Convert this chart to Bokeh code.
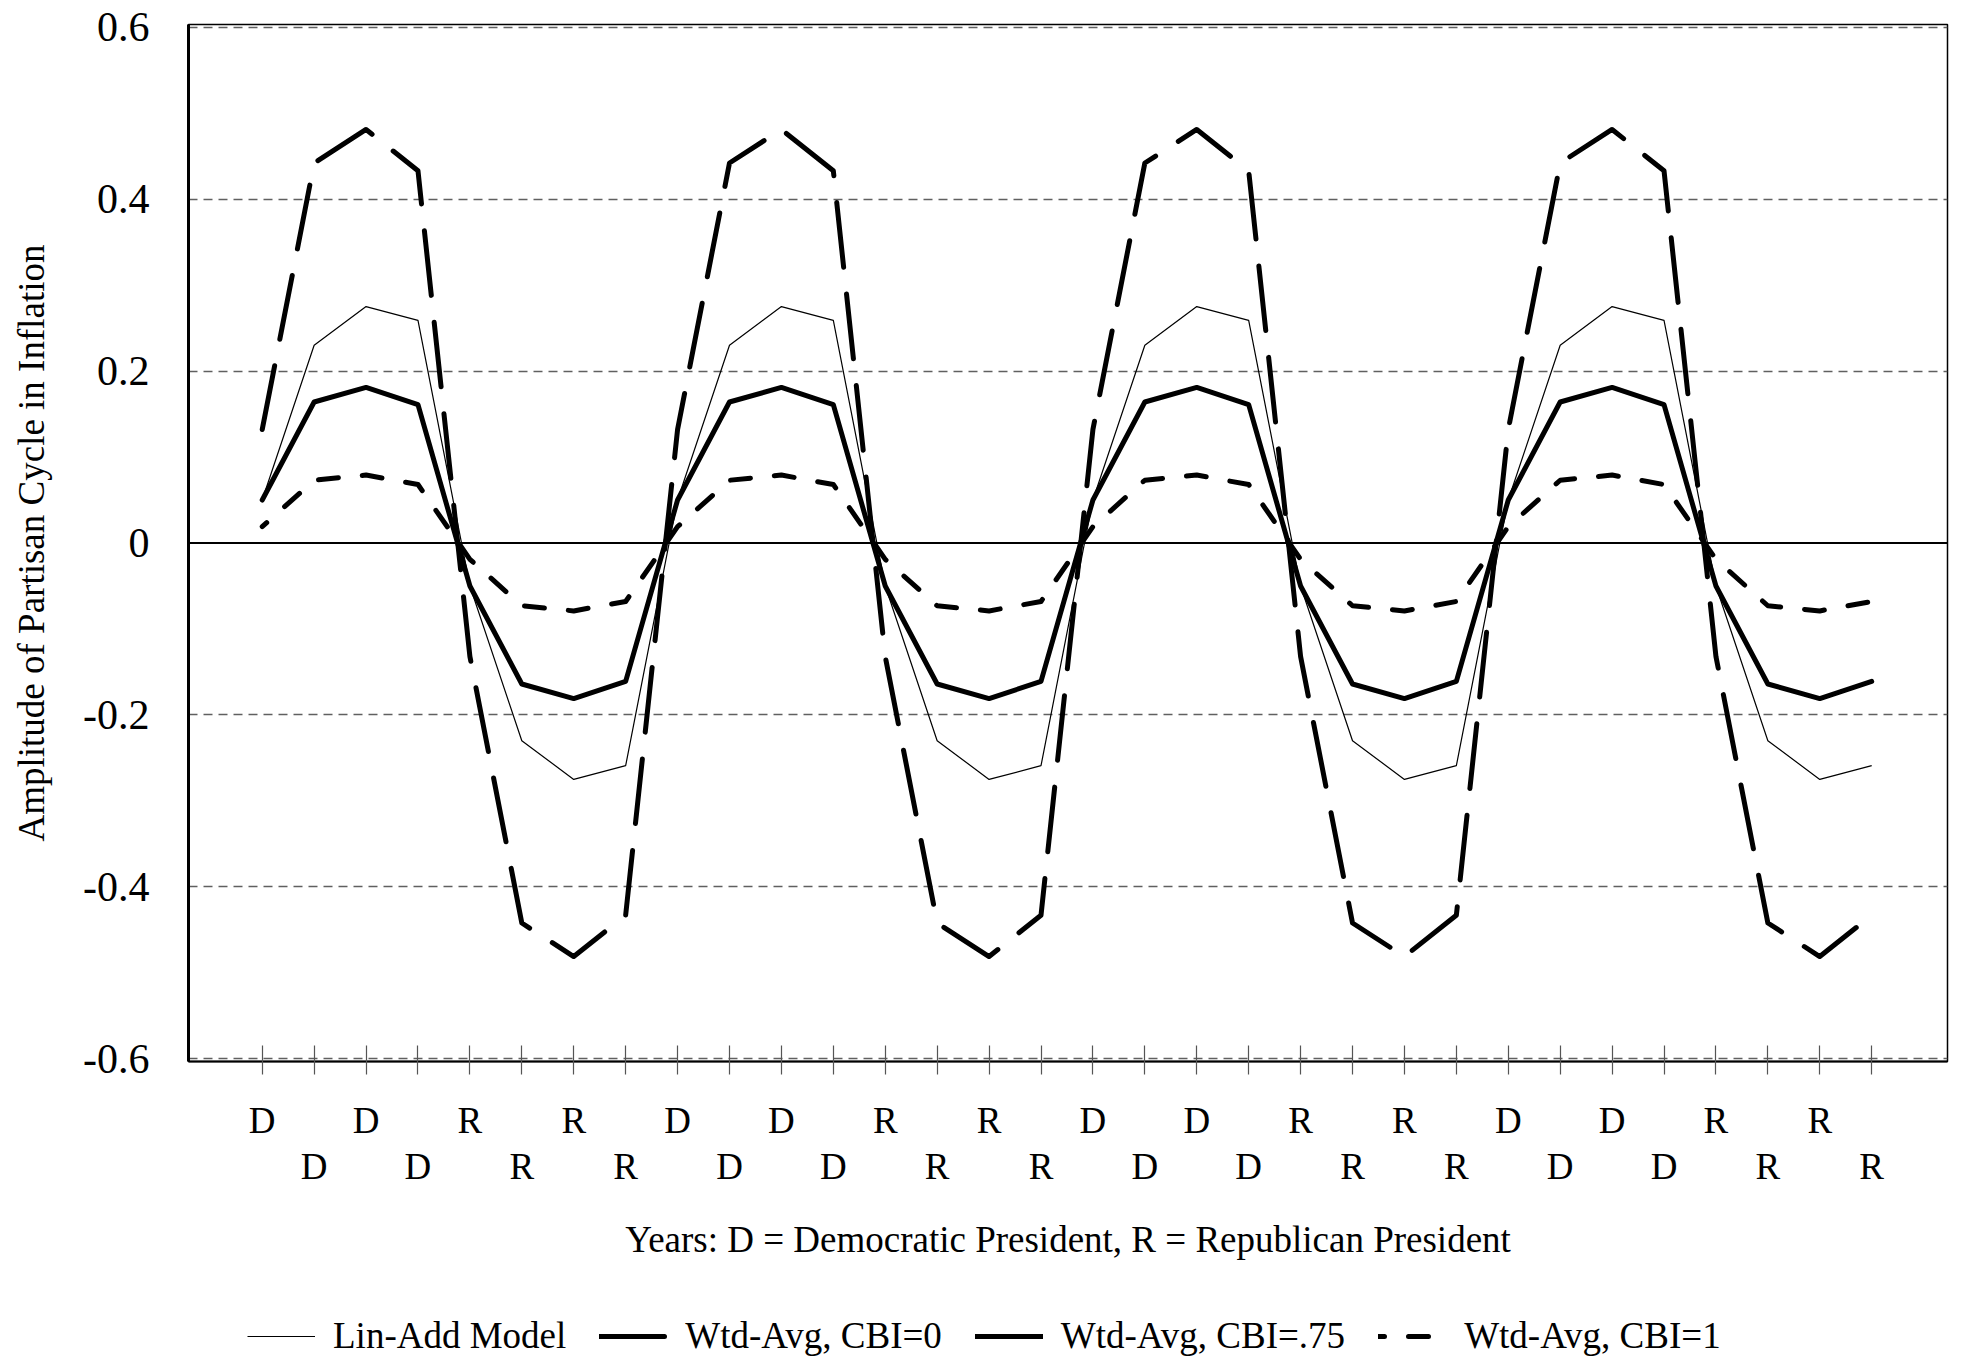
from bokeh.plotting import figure
from bokeh.layouts import column
from bokeh.models import Range1d, FixedTicker, LinearAxis, Legend, LegendItem, Span
from bokeh.embed import file_html
from bokeh.resources import INLINE

FONT = "Liberation Serif"

# ---- data -------------------------------------------------------------
years = list(range(32))
party = ["D", "D", "D", "D", "R", "R", "R", "R",
         "D", "D", "D", "D", "R", "R", "R", "R",
         "D", "D", "D", "D", "R", "R", "R", "R",
         "D", "D", "D", "D", "R", "R", "R", "R"]

lin_add = [0.050, 0.230, 0.275, 0.259, -0.050, -0.230, -0.275, -0.259,
           0.050, 0.230, 0.275, 0.259, -0.050, -0.230, -0.275, -0.259,
           0.050, 0.230, 0.275, 0.259, -0.050, -0.230, -0.275, -0.259,
           0.050, 0.230, 0.275, 0.259, -0.050, -0.230, -0.275, -0.259]
wtd_cbi0 = [0.132, 0.442, 0.481, 0.433, -0.132, -0.442, -0.481, -0.433,
            0.132, 0.442, 0.481, 0.433, -0.132, -0.442, -0.481, -0.433,
            0.132, 0.442, 0.481, 0.433, -0.132, -0.442, -0.481, -0.433,
            0.132, 0.442, 0.481, 0.433, -0.132, -0.442, -0.481, -0.433]
wtd_cbi75 = [0.050, 0.164, 0.181, 0.161, -0.050, -0.164, -0.181, -0.161,
             0.050, 0.164, 0.181, 0.161, -0.050, -0.164, -0.181, -0.161,
             0.050, 0.164, 0.181, 0.161, -0.050, -0.164, -0.181, -0.161,
             0.050, 0.164, 0.181, 0.161, -0.050, -0.164, -0.181, -0.161]
wtd_cbi1 = [0.019, 0.073, 0.079, 0.068, -0.019, -0.073, -0.079, -0.068,
            0.019, 0.073, 0.079, 0.068, -0.019, -0.073, -0.079, -0.068,
            0.019, 0.073, 0.079, 0.068, -0.019, -0.073, -0.079, -0.068,
            0.019, 0.073, 0.079, 0.068, -0.019, -0.073, -0.079, -0.068]

y_ticks = [-0.6, -0.4, -0.2, 0, 0.2, 0.4, 0.6]
y_tick_labels = ["-0.6", "-0.4", "-0.2", "0", "0.2", "0.4", "0.6"]
grid_ticks = [-0.6, -0.4, -0.2, 0.2, 0.4, 0.6]

y_title = "Amplitude of Partisan Cycle in Inflation"
x_title = "Years: D = Democratic President, R = Republican President"
series_names = ["Lin-Add Model", "Wtd-Avg, CBI=0", "Wtd-Avg, CBI=.75", "Wtd-Avg, CBI=1"]

# line styles (thin, long dash, solid, short dash)
STYLES = [dict(line_color="black", line_width=1.2, line_join="round"),
          dict(line_color="black", line_width=5, line_dash="65 27",
               line_cap="round", line_join="round"),
          dict(line_color="black", line_width=5, line_cap="round", line_join="round"),
          dict(line_color="black", line_width=5, line_dash="20 24", line_dash_offset=14,
               line_cap="round", line_join="round")]
SERIES = [lin_add, wtd_cbi0, wtd_cbi75, wtd_cbi1]

# ---- main figure ------------------------------------------------------
p = figure(width=1953, height=1300,
           x_range=Range1d(-1.42, 32.46), y_range=Range1d(-0.6031, 0.6031),
           output_backend="svg", toolbar_location=None,
           min_border_left=188, min_border_right=6,
           min_border_top=24, min_border_bottom=239)
p.background_fill_color = "white"
p.border_fill_color = "white"
p.outline_line_color = "black"
p.outline_line_width = 1.5

p.xgrid.visible = False
p.ygrid.ticker = FixedTicker(ticks=grid_ticks)
p.ygrid.grid_line_color = "#606060"
p.ygrid.grid_line_dash = "9 6"
p.ygrid.grid_line_width = 1.3

p.add_layout(Span(location=0, dimension="width", line_color="black", line_width=2))

# y axis
ya = p.yaxis[0]
ya.ticker = FixedTicker(ticks=y_ticks)
ya.major_label_overrides = {t: l for t, l in zip(y_ticks, y_tick_labels)}
ya.major_tick_in = 0
ya.major_tick_out = 0
ya.minor_tick_line_color = None
ya.axis_line_color = "black"
ya.axis_line_width = 3
ya.major_label_text_font = FONT
ya.major_label_text_font_size = "42px"
ya.major_label_text_color = "black"
ya.major_label_standoff = 39
ya.axis_label = y_title
ya.axis_label_text_font = FONT
ya.axis_label_text_font_size = "37px"
ya.axis_label_text_font_style = "normal"
ya.axis_label_text_color = "black"
ya.axis_label_standoff = 28

# x axis: first row of labels, with the tick marks
xa = p.xaxis[0]
xa.ticker = FixedTicker(ticks=years)
xa.major_label_overrides = {y: (party[k] if k % 2 == 0 else "") for k, y in enumerate(years)}
xa.major_tick_in = 16
xa.major_tick_out = 13
xa.major_tick_line_color = "#555555"
xa.major_tick_line_width = 1.2
xa.minor_tick_line_color = None
xa.axis_line_color = "black"
xa.axis_line_width = 2
xa.major_label_text_font = FONT
xa.major_label_text_font_size = "37px"
xa.major_label_text_color = "black"
xa.major_label_standoff = 25

# second row of labels + axis title
odd_years = [y for k, y in enumerate(years) if k % 2 == 1]
xa2 = LinearAxis(ticker=FixedTicker(ticks=odd_years),
                 major_label_overrides={y: party[k] for k, y in enumerate(years) if k % 2 == 1},
                 axis_line_color=None, major_tick_line_color=None,
                 major_tick_in=0, major_tick_out=0, minor_tick_line_color=None,
                 major_label_text_font=FONT, major_label_text_font_size="37px",
                 major_label_text_color="black", major_label_standoff=2,
                 axis_label=x_title, axis_label_text_font=FONT,
                 axis_label_text_font_size="37px", axis_label_text_font_style="normal",
                 axis_label_text_color="black", axis_label_standoff=29)
p.add_layout(xa2, "below")

for ys, st in zip(SERIES, STYLES):
    p.line(years, ys, **st)

# ---- legend strip (same series, range kept away so only the keys show) --
q = figure(width=1953, height=57,
           x_range=Range1d(1000, 1001), y_range=Range1d(0, 1),
           output_backend="svg", toolbar_location=None,
           x_axis_location=None, y_axis_location=None, min_border=0)
q.outline_line_color = None
q.background_fill_color = "white"
q.border_fill_color = "white"
q.grid.visible = False

items = []
for name, ys, st in zip(series_names, SERIES, STYLES):
    r = q.line(years, ys, **st)
    items.append(LegendItem(label=name, renderers=[r]))

legend = Legend(items=items, orientation="horizontal", location=(59, 0),
                glyph_width=68, glyph_height=34, label_height=34,
                label_standoff=18, spacing=33,
                padding=0, margin=0, border_line_color=None,
                background_fill_alpha=0,
                label_text_font=FONT, label_text_font_size="37px",
                label_text_color="black")
q.add_layout(legend)

layout = column(p, q, spacing=0)
open("out.html", "w").write(file_html(layout, INLINE))
